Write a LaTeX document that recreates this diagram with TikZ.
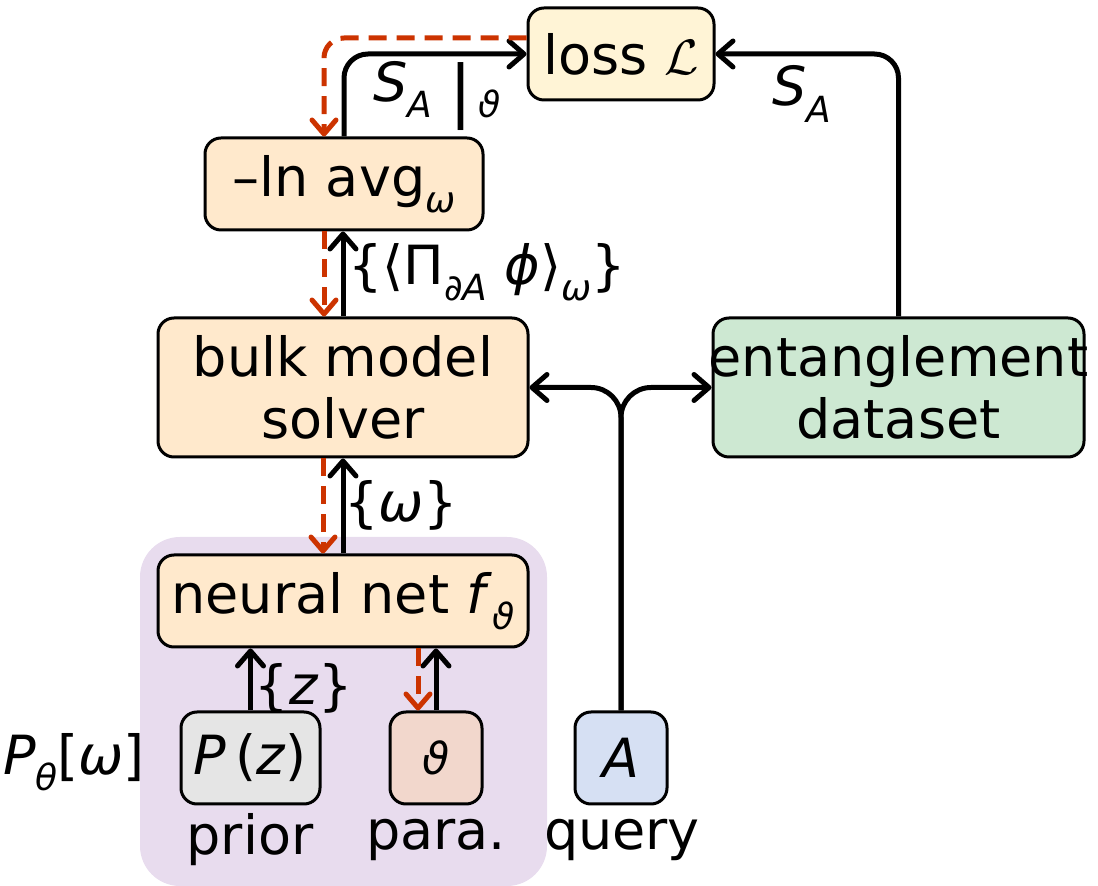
\documentclass[tikz,border=0pt]{standalone}
\usepackage{fontspec}
\setmainfont{DejaVu Sans}[ItalicFont={DejaVu Sans Oblique}]
\usetikzlibrary{arrows.meta}
\newcommand{\mysub}[1]{\raisebox{-0.3em}{\fontsize{18}{20}\selectfont #1}}
\definecolor{lossc}{HTML}{FFF4D6}
\definecolor{orc}{HTML}{FFE9CC}
\definecolor{grc}{HTML}{CDE8D2}
\definecolor{gyc}{HTML}{E5E5E5}
\definecolor{pkc}{HTML}{F2D7CC}
\definecolor{blc}{HTML}{D6E0F3}
\definecolor{puc}{HTML}{E8DCEE}
\definecolor{rdc}{HTML}{CC3300}
\begin{document}
\begin{tikzpicture}[x=0.5pt,y=-0.5pt,
  font=\fontsize{27}{31}\selectfont,
  box/.style={draw=black,line width=1.5pt,rounded corners=8pt,inner sep=0pt,align=center},
  blk/.style={line width=2.5pt,-{Straight Barb[length=7.5pt,width=13pt,round,line width=2.5pt]}},
  red/.style={draw=rdc,line width=2.5pt,dash pattern=on 9pt off 5pt,-{Straight Barb[length=7pt,width=12pt,round,line width=2.5pt]}},
  lbl/.style={inner sep=0pt}]
\useasboundingbox (0,0) rectangle (1098,886);
\fill[puc,rounded corners=20pt] (140,537) rectangle (547,886);
\node[box,fill=lossc,minimum width=93pt,minimum height=46pt] (loss) at (621,54) {loss $\mathcal{L}$};
\node[box,fill=orc,minimum width=139pt,minimum height=46pt] (ln) at (344,184) {–ln avg\mysub{\textit{ω}}};
\node[box,fill=orc,minimum width=185pt,minimum height=69.5pt] (bulk) at (343,387.5) {bulk model\\solver};
\node[box,fill=grc,minimum width=185.5pt,minimum height=69.5pt] (ent) at (898.5,387.5) {\makebox[170pt][c]{entanglement}\\dataset};
\node[box,fill=orc,minimum width=185pt,minimum height=46pt] (nn) at (343,601) {neural net \textit{f}\mysub{\textit{ϑ}}};
\node[box,fill=gyc,minimum width=69.5pt,minimum height=46pt] (pz) at (250.5,758) {\textit{P}\,(\textit{z})};
\node[box,fill=pkc,minimum width=46pt,minimum height=46pt] (th) at (436,758) {\fontsize{22}{26}\selectfont\textit{ϑ}};
\node[box,fill=blc,minimum width=46pt,minimum height=46pt] (A) at (621,758) {\textit{A}};
\node[lbl] (prior) at (250,840) {prior};
\node[lbl] (para) at (436,840) {para.};
\node[lbl] (query) at (622,840) {query};
\node[lbl] (pth) at (74,762) {\textit{P}\mysub{\textit{θ}}[\textit{ω}]};
\node[lbl] (sa1) at (437,96) {\textit{S}\mysub{\textit{A}}\ \raisebox{-0.25em}{\fontsize{34}{36}\selectfont|}\mysub{\,\textit{ϑ}}};
\node[lbl] (sa2) at (802,94) {\textit{S}\mysub{\textit{A}}};
\node[lbl] (phi) at (487,272) {\{⟨Π\mysub{\textit{∂A}}\ \textit{ϕ}⟩\mysub{\textit{ω}}\}};
\node[lbl] (om) at (401,505) {\{\textit{ω}\}};
\node[lbl] (zz) at (304,688) {\{\textit{z}\}};
% black connectors
\draw[blk,rounded corners=12pt] (ln.north) |- (loss.west);
\draw[blk,rounded corners=12pt] (ent.north) |- (loss.east);
\draw[blk] (bulk.north) -- (bulk.north |- ln.south);
\draw[blk] (nn.north) -- (nn.north |- bulk.south);
\draw[blk] (pz.north) -- (pz.north |- nn.south);
\draw[blk] (th.north) -- (th.north |- nn.south);
\draw[blk,rounded corners=15pt] (A.north) |- (bulk.east);
\draw[blk,rounded corners=15pt] (A.north) |- (ent.west);
% red dashed connectors
\draw[red,rounded corners=10pt] ([yshift=8pt]loss.west) -| ([xshift=-10pt]ln.north);
\draw[red] ([xshift=-10pt]ln.south) -- ([xshift=-10pt]ln.south |- bulk.north);
\draw[red] ([xshift=-10pt]bulk.south) -- ([xshift=-10pt]bulk.south |- nn.north);
\draw[red] ([xshift=-9pt]th.north |- nn.south) -- ([xshift=-9pt]th.north);
\end{tikzpicture}
\end{document}
